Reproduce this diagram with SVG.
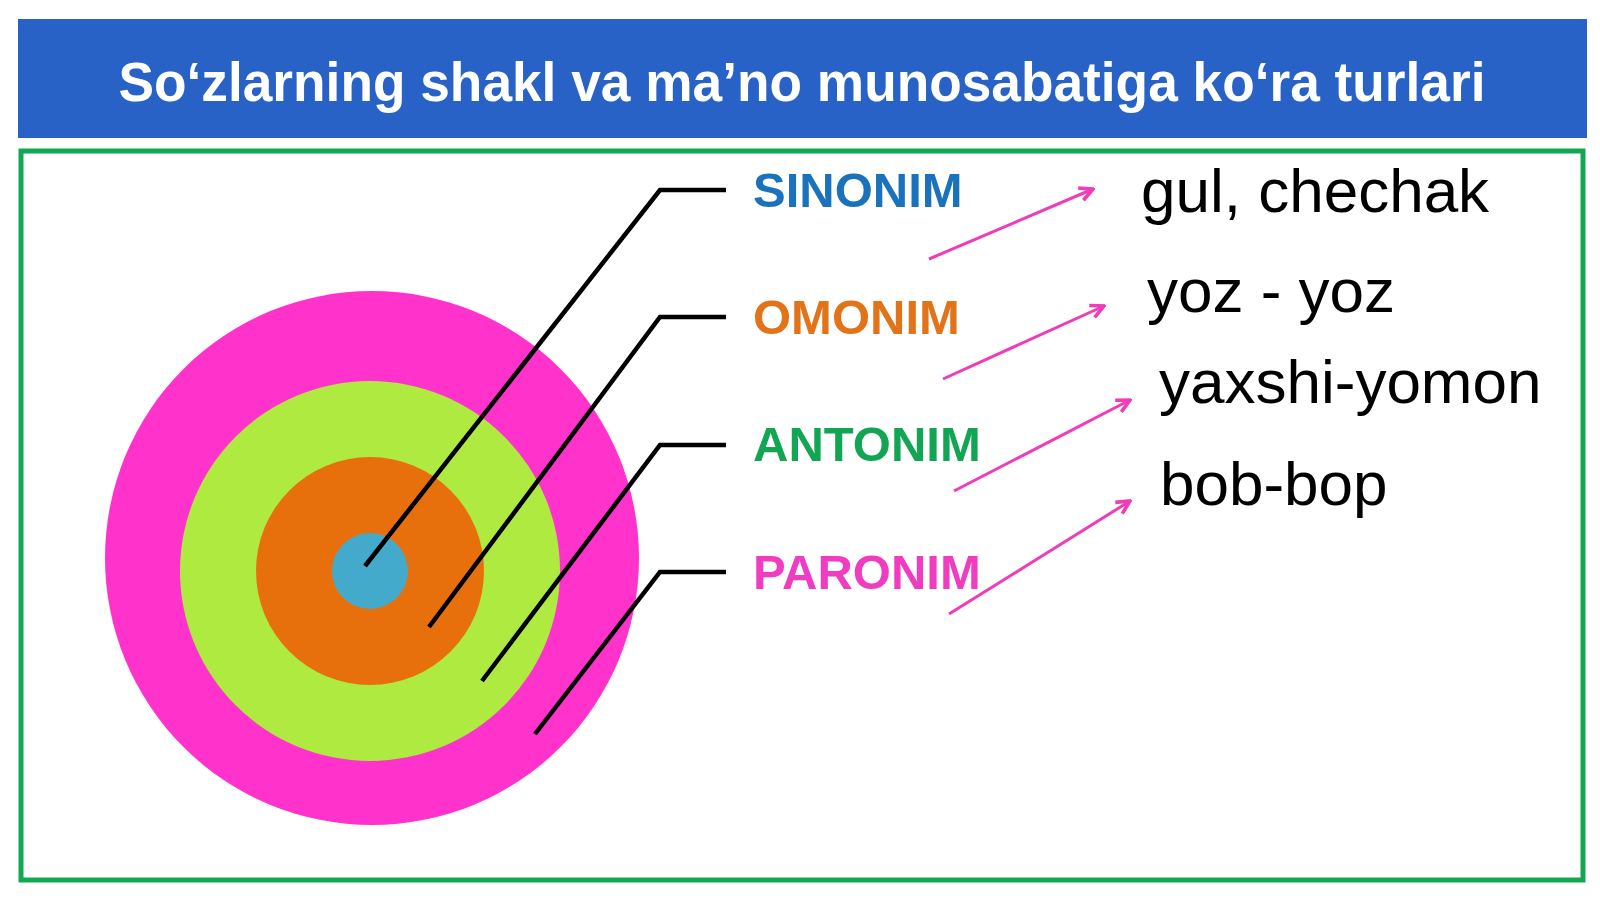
<svg xmlns="http://www.w3.org/2000/svg" width="1600" height="900" viewBox="0 0 1600 900">
<defs>
<style>
.title{font-family:"Liberation Sans",Arial,sans-serif;font-weight:bold;font-size:55px;fill:#ffffff}
.lbl{font-family:"Liberation Sans",Arial,sans-serif;font-weight:bold;font-size:49px}
.ex{font-family:"Liberation Sans",Arial,sans-serif;font-size:62px;fill:#000000}
.leader{fill:none;stroke:#000000;stroke-width:4.5;stroke-linejoin:miter}
.arr{fill:none;stroke:#F03CB8;stroke-width:3;marker-end:url(#ah)}
</style>
<marker id="ah" viewBox="0 0 10 10" refX="9" refY="5" markerWidth="5.5" markerHeight="5.5" orient="auto" markerUnits="strokeWidth">
<path d="M1,1 L9,5 L1,9" fill="none" stroke="#F03CB8" stroke-width="2.2"/>
</marker>
</defs>
<rect width="1600" height="900" fill="#ffffff"/>
<g id="header">
<rect x="18" y="19" width="1569" height="119" fill="#2862C6"/>
<text class="title" x="802" y="101" text-anchor="middle" textLength="1367" lengthAdjust="spacingAndGlyphs">So‘zlarning shakl va ma’no munosabatiga ko‘ra turlari</text>
</g>
<rect id="frame" x="21" y="151" width="1562" height="729" fill="none" stroke="#12A852" stroke-width="5"/>
<g id="circles">
<circle cx="372" cy="558" r="267" fill="#FF33CC"/>
<circle cx="370" cy="571" r="190" fill="#AEEA40"/>
<circle cx="370" cy="571" r="114" fill="#E8700C"/>
<circle cx="370" cy="571" r="38" fill="#44AACC"/>
</g>
<g id="connectors">
<polyline class="leader" points="365,566 660,190 726,190"/>
<polyline class="leader" points="429,627 660,317 726,317"/>
<polyline class="leader" points="482,681 660,445 726,445"/>
<polyline class="leader" points="535,734 660,572 726,572"/>
<line class="arr" x1="929" y1="259" x2="1093" y2="189"/>
<line class="arr" x1="943" y1="379" x2="1104" y2="306"/>
<line class="arr" x1="954" y1="491" x2="1130" y2="400"/>
<line class="arr" x1="949" y1="614" x2="1130" y2="501"/>
</g>
<g id="sinonim"><text class="lbl" x="753" y="207" fill="#1A72BC">SINONIM</text></g>
<g id="omonim"><text class="lbl" x="753" y="334" fill="#E27318">OMONIM</text></g>
<g id="antonim"><text class="lbl" x="753" y="461" fill="#12A553">ANTONIM</text></g>
<g id="paronim"><text class="lbl" x="753" y="589" fill="#F03CC0">PARONIM</text></g>
<g id="ex1"><text class="ex" x="1141" y="212">gul, chechak</text></g>
<g id="ex2"><text class="ex" x="1147" y="312">yoz - yoz</text></g>
<g id="ex3"><text class="ex" x="1159" y="403">yaxshi-yomon</text></g>
<g id="ex4"><text class="ex" x="1160" y="505">bob-bop</text></g>
</svg>
